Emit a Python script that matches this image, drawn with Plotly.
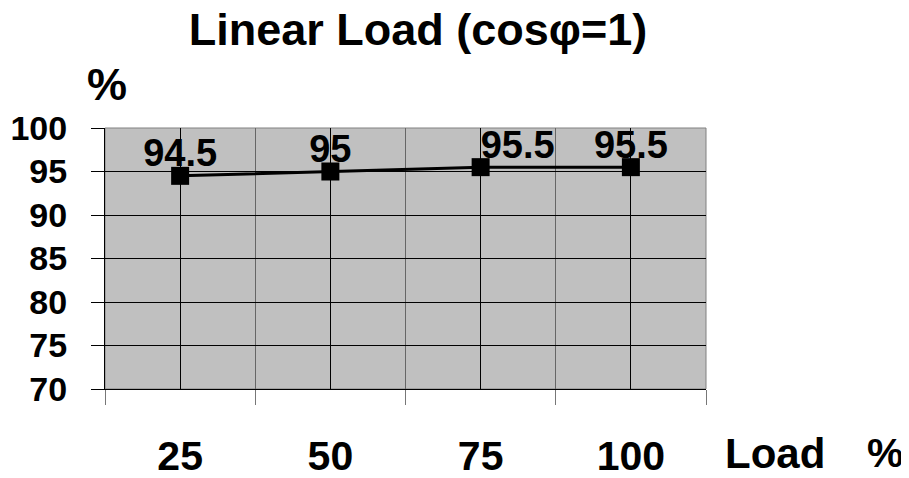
import plotly.graph_objects as go

load_pct = [25, 50, 75, 100]
efficiency = [94.5, 95, 95.5, 95.5]
x_labels = ["25", "50", "75", "100"]
y_ticks = [70, 75, 80, 85, 90, 95, 100]
label_pos = ["top center", "top center", "top right", "top center"]

FONT = "Liberation Sans, Arial, sans-serif"

# page has an 8px body margin, so the figure is sized/positioned accordingly
W, H = 901, 470
L, T, PW, PH = 97, 120, 601, 261
R = W - L - PW
B = H - T - PH

def px(xf):
    return (xf - L) / PW

def py(yf):
    return (T + PH - yf) / PH

fig = go.Figure()
fig.add_trace(go.Scatter(
    x=load_pct, y=efficiency,
    mode="lines+markers",
    line=dict(color="black", width=3),
    marker=dict(symbol="square", size=18, color="black"),
    showlegend=False,
))
fig.add_trace(go.Scatter(
    x=load_pct, y=efficiency,
    mode="text",
    text=[str(v) for v in efficiency],
    textposition=label_pos,
    textfont=dict(family=FONT, size=38, color="black", weight="bold"),
    marker=dict(size=1),
    cliponaxis=False,
    showlegend=False,
))

fig.update_layout(
    width=W, height=H,
    margin=dict(l=L, r=R, t=T, b=B, autoexpand=False),
    paper_bgcolor="white",
    plot_bgcolor="#C0C0C0",
    font=dict(family=FONT, color="black", weight="bold"),
    title=dict(
        text="Linear Load (cosφ=1)",
        xref="container", x=410/W, xanchor="center",
        yref="container", y=1-21/H, yanchor="middle",
        font=dict(family=FONT, size=45, color="black", weight="bold"),
    ),
    xaxis=dict(
        range=[12.5, 112.5],
        tickmode="array", tickvals=load_pct, ticktext=x_labels,
        ticks="", showgrid=True, gridcolor="black", gridwidth=1,
        tickfont=dict(family=FONT, size=41, color="black", weight="bold"),
        ticklabelstandoff=31,
        showline=True, linecolor="black", linewidth=1,
        zeroline=False, automargin=False,
        minor=dict(tick0=12.5, dtick=25, ticks="outside", ticklen=15,
                   tickcolor="#777777", tickwidth=1,
                   showgrid=True, gridcolor="#666666", gridwidth=1),
    ),
    yaxis=dict(
        range=[70, 100],
        tickmode="array", tickvals=y_ticks,
        ticks="outside", ticklen=13, tickcolor="black", tickwidth=1,
        showgrid=True, gridcolor="black", gridwidth=1,
        tickfont=dict(family=FONT, size=34, color="black", weight="bold"),
        ticklabelstandoff=17,
        showline=True, linecolor="black", linewidth=1,
        zeroline=False, automargin=False,
    ),
    shapes=[dict(type="rect", xref="paper", yref="paper", x0=0, x1=1, y0=0, y1=1,
                 line=dict(color="#808080", width=1), layer="below")],
    annotations=[
        dict(text="%", xref="paper", yref="paper", x=px(99), y=py(77),
             xanchor="center", yanchor="middle", showarrow=False,
             font=dict(family=FONT, size=45, color="black", weight="bold")),
        dict(text="Load", xref="paper", yref="paper", x=px(767), y=py(445),
             xanchor="center", yanchor="middle", showarrow=False,
             font=dict(family=FONT, size=42, color="black", weight="bold")),
        dict(text="%", xref="paper", yref="paper", x=px(877), y=py(445),
             xanchor="center", yanchor="middle", showarrow=False,
             font=dict(family=FONT, size=41, color="black", weight="bold")),
    ],
)

fig.write_html("out.html")
